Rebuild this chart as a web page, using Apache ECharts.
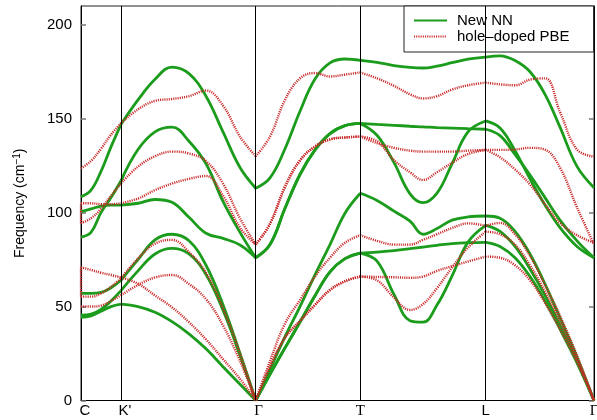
<!DOCTYPE html>
<html><head><meta charset="utf-8">
<script src="https://cdn.jsdelivr.net/npm/echarts@6/dist/echarts.min.js"></script>
<style>html,body{margin:0;padding:0;background:#fff}#c{width:597px;height:420px}</style>
</head><body><div id="c"></div>
<script>
// High-symmetry points along the k-path (path distance units)
const kLabels = ['C', "K'", 'Γ', 'T', 'L', 'Γ'];
const kPoints = [0, 40, 174.7, 279.3, 404.7, 513];
// sampling positions within each path segment
const kGrid = [
  [0, 10, 20, 30, 40],
  [40, 57, 74, 91, 108, 125, 142, 159, 174.7],
  [174.7, 189, 204, 219, 234, 249, 264, 279.3],
  [279.3, 296, 313, 329, 342, 356, 371, 387, 404.7],
  [404.7, 419, 434, 449, 464, 479, 496, 513]
];
const yTicks = [0, 50, 100, 150, 200];

// New NN bands (cm^-1), one list per segment
const nnBand1 = [
  [108.5, 112, 122, 135, 147],
  [147, 160, 171, 177.5, 174, 162, 143, 124, 113],
  [113, 118.5, 134, 154, 171.1, 179.7, 181.8, 181],
  [181, 180, 178.3, 177.3, 177, 178, 179.8, 181.7, 182.8],
  [182.8, 183.5, 181, 175, 163, 145.5, 124.6, 113.3]
];
const nnBand2 = [
  [87, 89.5, 100, 108, 117],
  [117, 133.6, 143, 145.5, 138, 126, 106, 89.5, 76],
  [76, 83, 102.3, 120.3, 133.4, 142.1, 146.3, 147.5],
  [147.5, 147, 146.5, 146, 145.7, 145.3, 145, 144.7, 144.4],
  [144.4, 141, 131, 120, 108, 96, 85, 76]
];
const nnBand3 = [
  [100.5, 102, 103.5, 104, 104],
  [104, 105, 107, 105.5, 97.5, 89, 86.3, 82.8, 76],
  [76, 83, 102.3, 120.3, 133.4, 142.1, 146.3, 147.5],
  [147.5, 141.2, 126.6, 110, 105.3, 110.4, 126, 143, 148.8],
  [148.8, 145, 133, 118, 104, 92, 82, 76]
];
const nnBand4 = [
  [57, 57, 57.5, 60, 64],
  [64, 75, 85.5, 88.5, 85, 72, 51, 25, 0],
  [0, 16.5, 34, 50, 66.9, 83, 99.7, 110.3],
  [110.3, 106.5, 100.8, 95.5, 88.5, 91.5, 96, 97.7, 98.2],
  [98.2, 97, 90, 78, 62, 44, 23, 0]
];
const nnBand5 = [
  [45.5, 46, 48.5, 53, 58.5],
  [58.5, 69, 78, 81, 78, 67, 48, 24, 0],
  [0, 14, 28, 41.8, 55.8, 68.5, 75.5, 78.5],
  [78.5, 79, 79.8, 80.8, 81.7, 82.6, 83.5, 84, 84.2],
  [84.2, 82, 76, 66, 53, 38, 20, 0]
];
const nnBand6 = [
  [44.3, 45, 47.5, 50, 51.3],
  [51.3, 50, 47, 42, 35.5, 27.5, 18, 8.7, 0],
  [0, 14, 28, 41.8, 55.8, 68.5, 75.5, 78.5],
  [78.5, 74.2, 56.4, 42.5, 41.7, 50.8, 66.2, 84.3, 93.2],
  [93.2, 90, 82, 70, 56, 40, 21, 0]
];

// hole-doped PBE bands
const pbeBand1 = [
  [123.6, 127.5, 134, 141.5, 147.6],
  [147.6, 155, 159.5, 160.5, 162, 165, 157, 140.5, 130],
  [130, 140.5, 160, 171.5, 174.3, 172.5, 173.5, 174.6],
  [174.6, 171.5, 167.5, 163, 160.8, 162, 165.5, 167.8, 169.2],
  [169.2, 168.3, 167.8, 170.8, 171.5, 153.6, 133.6, 129.8]
];
const pbeBand2 = [
  [94.4, 97, 102, 109, 115.6],
  [115.6, 124.5, 130, 132.5, 131.5, 127.5, 115.5, 97, 83],
  [83, 94, 113.8, 127.8, 135.2, 139, 140, 140.5],
  [140.5, 137, 134.5, 133, 132.5, 132.5, 132.5, 133, 133.4],
  [133.4, 133.4, 133.6, 134.5, 133.5, 124, 102.8, 83]
];
const pbeBand3 = [
  [105, 105, 104.5, 104.5, 105],
  [105, 107.5, 112, 115.5, 118, 119.5, 109, 92, 83],
  [83, 94, 113.8, 127.8, 135.2, 139, 140, 140.5],
  [140.5, 138, 128, 121.5, 117.4, 121.5, 126.5, 131.2, 133.4],
  [133.4, 129.5, 123, 115, 104.5, 94.5, 88, 84]
];
const pbeBand4 = [
  [55.3, 55.3, 57, 60.5, 65],
  [65, 75.6, 83.5, 85.5, 79, 68, 49, 25, 0],
  [0, 21, 41, 53.5, 66, 76, 84, 88],
  [88, 85, 83, 83, 85.5, 88.5, 91.8, 94.3, 93],
  [93, 94.5, 88.5, 77, 61.5, 45, 24, 0]
];
const pbeBand5 = [
  [50, 50, 50.5, 53, 56],
  [56, 61.5, 65.5, 66.8, 62, 54, 40, 21, 0],
  [0, 18, 33.5, 42.3, 50.9, 58.8, 63.5, 66],
  [66, 65.8, 65.6, 65.3, 66, 69, 71.5, 74, 76.6],
  [76.6, 76, 72, 64, 52, 38, 20.5, 0]
];
const pbeBand6 = [
  [70.9, 69.5, 68, 66.8, 65.5],
  [65.5, 62.2, 55.9, 49.6, 41.7, 32.5, 22, 11.5, 0],
  [0, 18, 33.5, 42.3, 50.9, 58.8, 63.5, 66],
  [66, 64, 54.8, 48.2, 51.3, 59.8, 70.8, 81.4, 89.9],
  [89.9, 88.5, 83, 72, 58, 42, 22, 0]
];
// vertical jumps of the PBE curves right at C
const pbeJumpsAtC = [[94.4, 105], [55.3, 70.9]];

const NN = 'New NN', PBE = 'hole–doped PBE';
const greenStyle = { color: '#1c9c1c', width: 2.8, type: 'solid' };
const redStyle = { color: '#c82828', width: 2.4, type: [1.1, 1.1] };

function bandSeries(name, band, style, z) {
  return band.map((seg, i) => ({
    type: 'line', name, z, silent: true, animation: false,
    symbol: 'none', smooth: 0.4, color: style.color,
    lineStyle: style,
    data: seg.map((v, j) => [kGrid[i][j], v])
  }));
}

let series = [];
series.push({
  type: 'line', name: 'sym', data: [], z: 1, silent: true,
  markLine: {
    silent: true, symbol: 'none', animation: false,
    label: { show: false },
    lineStyle: { color: '#000', width: 1, type: 'solid' },
    data: kPoints.slice(1, 5).map(x => ({ xAxis: x }))
  }
});
[nnBand1, nnBand2, nnBand3, nnBand4, nnBand5, nnBand6].forEach(b => {
  series = series.concat(bandSeries(NN, b, greenStyle, 3));
});
[pbeBand1, pbeBand2, pbeBand3, pbeBand4, pbeBand5, pbeBand6].forEach(b => {
  series = series.concat(bandSeries(PBE, b, redStyle, 4));
});
pbeJumpsAtC.forEach(p => {
  series.push({
    type: 'line', name: PBE, z: 4, silent: true, animation: false, symbol: 'none',
    color: redStyle.color, lineStyle: redStyle,
    data: p.map(v => [kPoints[0], v])
  });
});

const chart = echarts.init(document.getElementById('c'), null, { renderer: 'canvas' });
chart.setOption({
  animation: false,
  backgroundColor: '#fff',
  textStyle: { fontFamily: 'Liberation Sans, Arial, sans-serif' },
  grid: {
    left: 81, right: 3, top: 6, bottom: 19.5,
    containLabel: false, outerBoundsMode: 'none',
    show: true, borderColor: '#222', borderWidth: 1, backgroundColor: 'transparent'
  },
  legend: {
    data: [NN, PBE],
    orient: 'vertical',
    left: 404, top: 6,
    padding: [7, 24, 8, 9],
    itemGap: 1,
    itemWidth: 33, itemHeight: 14,
    itemStyle: { opacity: 0 },
    backgroundColor: '#fff',
    borderColor: '#222', borderWidth: 1, borderRadius: 0,
    textStyle: { fontSize: 15, color: '#000', padding: [0, 0, 0, 5], fontFamily: 'Liberation Sans, Arial, sans-serif' }
  },
  xAxis: {
    type: 'value', min: 0, max: 513,
    axisLine: { show: true, lineStyle: { color: '#000', width: 1 } },
    axisTick: { show: false },
    splitLine: { show: false },
    axisLabel: {
      customValues: kPoints,
      margin: 3,
      fontSize: 15, color: '#000',
      hideOverlap: false,
      formatter: v => {
        let i = 0, best = 1e9;
        kPoints.forEach((p, j) => { if (Math.abs(p - v) < best) { best = Math.abs(p - v); i = j; } });
        const t = kLabels[i];
        if (i < 2) return '{a|' + t + '}';
        if (i === 2) return '{b|' + t + '}';
        return (t === 'Γ' || t === 'T') ? '{s|' + t + '}' : t;
      },
      rich: {
        a: { fontSize: 15, color: '#000', padding: [0, 0, 0, 8] },
        b: { fontFamily: 'Liberation Serif, serif', fontSize: 15, color: '#000', padding: [0, 0, 0, 6] },
        s: { fontFamily: 'Liberation Serif, serif', fontSize: 15, color: '#000' }
      }
    }
  },
  yAxis: [{
    type: 'value', min: 0, max: 210, interval: 50,
    axisLine: { show: true, lineStyle: { color: '#000' } },
    axisTick: { show: true, inside: true, length: 5, customValues: yTicks, lineStyle: { color: '#777', width: 1.5 } },
    splitLine: { show: false },
    axisLabel: { fontSize: 15, color: '#000', margin: 9, customValues: yTicks },
    name: 'Frequency (cm{sup|−1})',
    nameLocation: 'middle', nameGap: 52,
    nameTextStyle: {
      fontSize: 14, color: '#000', fontFamily: 'Liberation Sans, Arial, sans-serif',
      rich: { sup: { fontSize: 10, verticalAlign: 'top', padding: [0, 0, 7, 0], color: '#000' } }
    }
  }, {
    type: 'value', min: 0, max: 210, interval: 50, position: 'right',
    axisLine: { show: true, lineStyle: { color: '#000' } },
    axisTick: { show: true, inside: true, length: 5, customValues: yTicks, lineStyle: { color: '#777', width: 1.5 } },
    splitLine: { show: false },
    axisLabel: { show: false }
  }],
  series
});
</script></body></html>
